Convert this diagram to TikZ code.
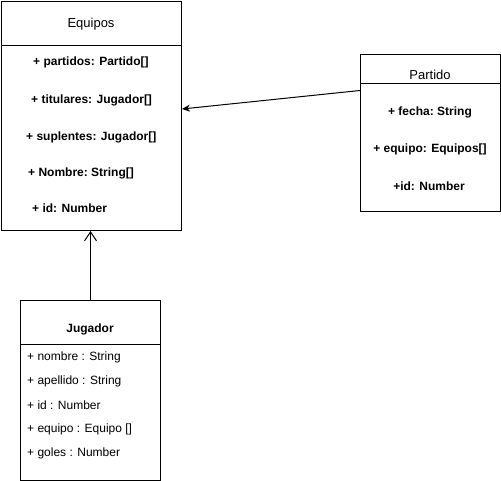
\documentclass[tikz,border=0pt]{standalone}
\usepackage{fontspec}
\setmainfont{Liberation Sans}
\usetikzlibrary{arrows.meta,positioning}
\tikzset{
  classbox/.style={draw,line width=1pt,anchor=north west,inner sep=0pt},
  divider/.style={line width=1pt},
  classtitle/.style={font=\fontsize{13}{15}\selectfont,inner sep=0pt},
  classtitlebf/.style={font=\fontsize{12}{14}\selectfont\bfseries,inner sep=0pt},
  attrbf/.style={font=\fontsize{12}{14}\selectfont\bfseries,inner sep=0pt},
  attr/.style={font=\fontsize{12}{14}\selectfont,inner sep=0pt,anchor=west},
  assoc/.style={-{Stealth[length=8pt,width=7pt]},line width=1pt},
  depend/.style={-{Straight Barb[length=9pt,width=12pt]},line width=1pt}
}
\begin{document}
\begin{tikzpicture}[x=1pt,y=-1pt]
\useasboundingbox (0,0) rectangle (501,481);
% Equipos
\node[classbox,minimum width=180pt,minimum height=229pt] (equipos) at (1,1) {};
\draw[divider] ([yshift=-45pt]equipos.north west) -- ([yshift=-45pt]equipos.north east);
\node[classtitle] (equipos-title) at (91,24) {Equipos};
\node[attrbf,anchor=west] (e1) at (33,62) {+ partidos: Partido[]};
\node[attrbf,anchor=west] (e2) at (31,100) {+ titulares: Jugador[]};
\node[attrbf,anchor=west] (e3) at (26,137) {+ suplentes: Jugador[]};
\node[attrbf,anchor=west] (e4) at (28,173) {+ Nombre:\ String[]};
\node[attrbf,anchor=west] (e5) at (32,208) {+ id: Number};
% Partido
\node[classbox,minimum width=140pt,minimum height=157pt] (partido) at (360,54) {};
\draw[divider] ([yshift=-30pt]partido.north west) -- ([yshift=-30pt]partido.north east);
\node[classtitle] (partido-title) at (430,75) {Partido};
\node[attrbf] (p1) at (430,112) {+ fecha:\ String};
\node[attrbf] (p2) at (430,149) {+ equipo: Equipos[]};
\node[attrbf] (p3) at (429,186) {+id: Number};
% Jugador
\node[classbox,minimum width=140pt,minimum height=180pt] (jugador) at (20,300) {};
\draw[divider] ([yshift=-44pt]jugador.north west) -- ([yshift=-44pt]jugador.north east);
\node[classtitlebf] (jugador-title) at (90,329) {Jugador};
\node[attr] (j1) at (27,357) {+ nombre : String};
\node[attr] (j2) at (27,381) {+ apellido : String};
\node[attr] (j3) at (27,405) {+ id : Number};
\node[attr] (j4) at (27,429) {+ equipo : Equipo []};
\node[attr] (j5) at (27,453) {+ goles : Number};
% relaciones
\draw[assoc] ([yshift=42.5pt]partido.west) -- ([yshift=7pt]equipos.east);
\draw[depend] (jugador.north) -- (jugador.north |- equipos.south);
\end{tikzpicture}
\end{document}
